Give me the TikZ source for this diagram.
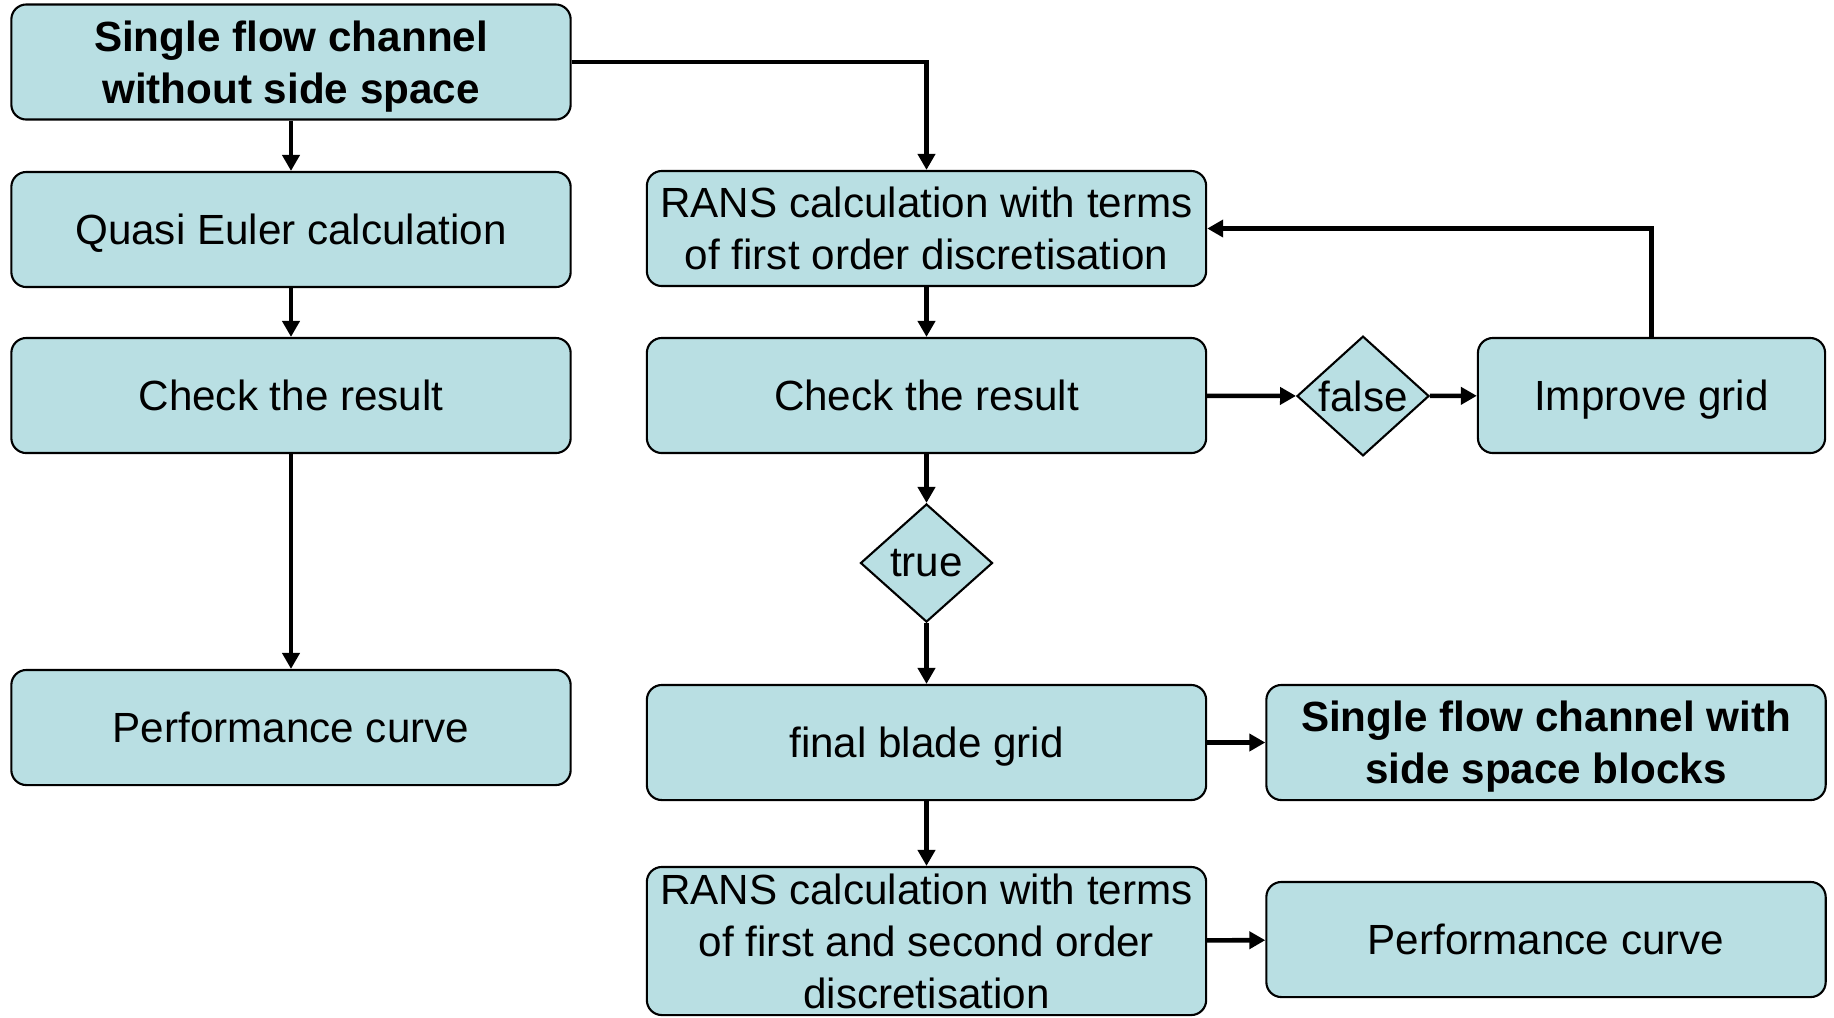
\documentclass[tikz,border=0pt]{standalone}
\usepackage{fontspec}
\setmainfont{Liberation Sans}
\usetikzlibrary{arrows.meta,shapes.geometric}
\definecolor{boxfill}{RGB}{185,223,227}
\tikzset{
	block/.style={draw=black, line width=0.6pt, fill=boxfill, rounded corners=0.15cm,
		minimum width=5.59cm, minimum height=1.15cm, inner sep=0pt, align=center,
		text depth=-1.2pt, font=\fontsize{12}{14.8}\selectfont},
	decision/.style={diamond, draw=black, line width=0.6pt, fill=boxfill,
		minimum width=1.32cm, minimum height=1.18cm, inner sep=0pt,
		text depth=-1.2pt, font=\fontsize{12}{14.8}\selectfont},
	flow/.style={line width=1.3pt, -{Triangle[length=0.16cm,width=0.17cm]}},
}
\begin{document}
\begin{tikzpicture}[x=0.01cm, y=-0.01cm]
		\pgfmathsetmacro{\colL}{291}
		\pgfmathsetmacro{\colM}{926.5}
		\pgfmathsetmacro{\colR}{1546}
		\useasboundingbox (0, 0) rectangle (1834, 1017);
		% left column
		\node[block, font=\fontsize{12}{14.8}\selectfont\bfseries] (start) at (\colL, 62)
			{Single flow channel\\without side space};
		\node[block] (euler) at (\colL, 229.5) {Quasi Euler calculation};
		\node[block] (checkL) at (\colL, 395.5) {Check the result};
		\node[block] (perfL) at (\colL, 727.5) {Performance curve};
		% middle column
		\node[block] (ransA) at (\colM, 228.5)
			{RANS calculation with terms\\of first order discretisation};
		\node[block] (checkR) at (\colM, 395.5) {Check the result};
		\node[decision] (true) at (\colM, 563) {true};
		\node[block] (final) at (\colM, 742.5) {final blade grid};
		\node[block, minimum height=1.48cm] (ransB) at (\colM, 941)
			{RANS calculation with terms\\of first and second order\\discretisation};
		% right column
		\node[decision] (false) at (1363, 396) {false};
		\node[block, minimum width=3.47cm] (grid) at (1651.5, 395.5) {Improve grid};
		\node[block, font=\fontsize{12}{14.8}\selectfont\bfseries] (side) at (\colR, 742.5)
			{Single flow channel with\\side space blocks};
		\node[block] (perfR) at (\colR, 939.5) {Performance curve};
		% connectors
		\draw[flow] (start) -- (euler);
		\draw[flow] (euler) -- (checkL);
		\draw[flow] (checkL) -- (perfL);
		\draw[flow] (start.east) -| (ransA.north);
		\draw[flow] (ransA) -- (checkR);
		\draw[flow] (checkR) -- (false);
		\draw[flow] (false) -- (grid);
		\draw[flow] (grid.north) |- (ransA.east);
		\draw[flow] (checkR) -- (true);
		\draw[flow] (true) -- (final);
		\draw[flow] (final) -- (side);
		\draw[flow] (final) -- (ransB);
		\draw[flow] (ransB) -- (perfR);
	\end{tikzpicture}
\end{document}
